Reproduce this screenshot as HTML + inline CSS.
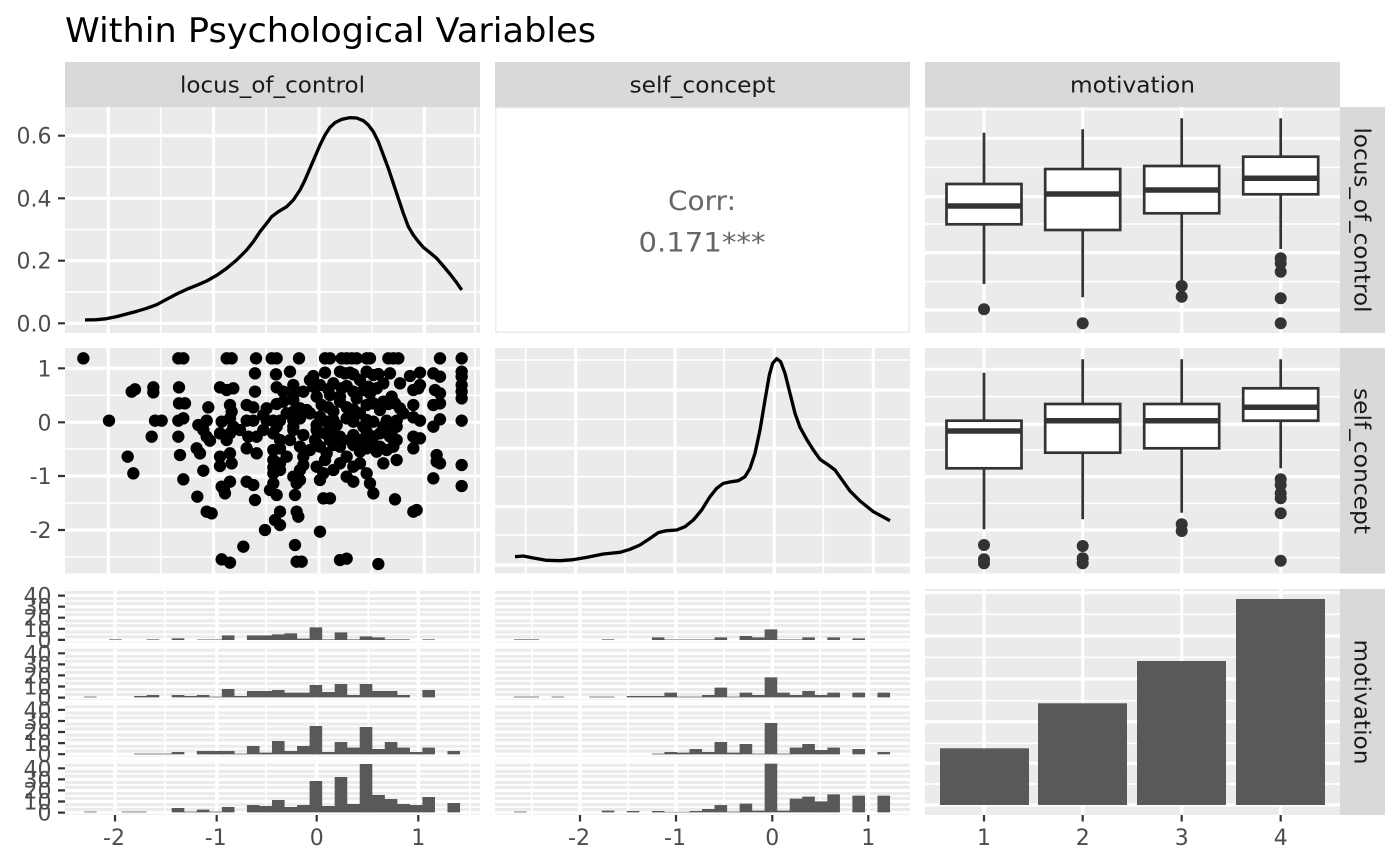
<!DOCTYPE html>
<html><head><meta charset="utf-8"><style>html,body{margin:0;padding:0;background:#fff}svg{display:block}</style></head>
<body>
<svg width="1400" height="865" viewBox="0 0 1400 865" xmlns="http://www.w3.org/2000/svg" font-family="'DejaVu Sans','Liberation Sans',sans-serif">
<defs>
<g id="hs"><rect width="415" height="53.3" fill="#EBEBEB"/><path d="M0 45.36H415M0 34.28H415M0 23.2H415M0 12.12H415M0 1.04H415" stroke="#fff" stroke-width="1.7"/><path d="M0 50.9H415M0 39.82H415M0 28.74H415M0 17.66H415M0 6.58H415" stroke="#fff" stroke-width="3.2"/></g>
</defs>
<rect width="1400" height="865" fill="#fff"/>
<text x="65" y="42" font-size="34" fill="#000" textLength="531" lengthAdjust="spacingAndGlyphs">Within Psychological Variables</text>

<rect x="65" y="62" width="415" height="45" fill="#D9D9D9"/>
<rect x="495" y="62" width="415" height="45" fill="#D9D9D9"/>
<rect x="925" y="62" width="415" height="45" fill="#D9D9D9"/>
<g font-size="22" fill="#1A1A1A" text-anchor="middle">
<text x="272.5" y="92.5" textLength="185" lengthAdjust="spacingAndGlyphs">locus_of_control</text>
<text x="702.5" y="92.5" textLength="146" lengthAdjust="spacingAndGlyphs">self_concept</text>
<text x="1132.5" y="92.5" textLength="125" lengthAdjust="spacingAndGlyphs">motivation</text>
</g>
<rect x="1340" y="107" width="45" height="226" fill="#D9D9D9"/>
<rect x="1340" y="348" width="45" height="225.5" fill="#D9D9D9"/>
<rect x="1340" y="589" width="45" height="226" fill="#D9D9D9"/>
<g font-size="22" fill="#1A1A1A" text-anchor="middle">
<text transform="translate(1354.5,220) rotate(90)" textLength="185" lengthAdjust="spacingAndGlyphs">locus_of_control</text>
<text transform="translate(1354.5,461) rotate(90)" textLength="146" lengthAdjust="spacingAndGlyphs">self_concept</text>
<text transform="translate(1354.5,702) rotate(90)" textLength="125" lengthAdjust="spacingAndGlyphs">motivation</text>
</g>

<rect x="65" y="107" width="415" height="226" fill="#EBEBEB"/>
<path d="M65 167H480M65 229.5H480M65 292H480M160.7 107V333M266 107V333M371.7 107V333M475 107V333" stroke="#fff" stroke-width="1.7"/>
<path d="M65 135.7H480M65 198.3H480M65 260.7H480M65 323.3H480M108.3 107V333M213.5 107V333M319 107V333M424.3 107V333" stroke="#fff" stroke-width="3.2"/>
<g transform="translate(0,50) scale(0.33333)">
<polyline fill="none" stroke="#000" stroke-width="10" stroke-linejoin="round" points="255,810 290,809 320,806 350,800 380,792 410,784 440,775 470,764 500,748 530,732 560,718 590,706 620,693 650,676 680,655 710,630 740,600 760,575 780,545 800,520 815,500 835,485 860,470 880,450 900,420 915,390 930,355 945,320 960,285 975,255 990,232 1005,218 1025,208 1050,203 1070,204 1090,212 1105,225 1120,245 1135,275 1150,315 1165,355 1180,400 1195,445 1210,490 1225,530 1240,555 1255,575 1270,592 1290,608 1310,625 1330,648 1350,672 1370,698 1385,720"/>
</g>

<rect x="495.75" y="107.75" width="413.5" height="224.5" fill="#fff" stroke="#EBEBEB" stroke-width="1.5"/>
<text x="702" y="210" font-size="27" fill="#666" text-anchor="middle" textLength="68" lengthAdjust="spacingAndGlyphs">Corr:</text>
<text x="702" y="251.5" font-size="27" fill="#666" text-anchor="middle" textLength="127" lengthAdjust="spacingAndGlyphs">0.171***</text>

<rect x="925" y="107" width="415" height="226" fill="#EBEBEB"/>
<path d="M925 109.5H1340M925 167.3H1340M925 224H1340M925 281.7H1340" stroke="#fff" stroke-width="1.7"/>
<path d="M925 138.3H1340M925 196.7H1340M925 252.7H1340M925 310H1340M984 107V333M1082.7 107V333M1181.7 107V333M1280.7 107V333" stroke="#fff" stroke-width="3.2"/>
<g stroke="#333" fill="#fff" stroke-width="2.7">
<path d="M984 132.7V184M984 224.3V284M1082.7 129.3V169M1082.7 230V297.3M1181.7 118.3V166M1181.7 213.3V280.7M1280.7 118.3V156.7M1280.7 194.3V249" fill="none"/>
<rect x="946.5" y="184" width="75" height="40.3"/>
<rect x="1045.2" y="169" width="75" height="61"/>
<rect x="1144.2" y="166" width="75" height="47.3"/>
<rect x="1243.2" y="156.7" width="75" height="37.6"/>
<path d="M946.5 206H1021.5M1045.2 194H1120.2M1144.2 190H1219.2M1243.2 178.3H1318.2" stroke-width="5.5" fill="none"/>
</g>
<g fill="#333">
<circle cx="984" cy="309.3" r="6"/>
<circle cx="1082.7" cy="323.3" r="6"/>
<circle cx="1181.7" cy="286" r="6"/><circle cx="1181.7" cy="296.7" r="6"/>
<circle cx="1280.7" cy="258.3" r="6"/><circle cx="1280.7" cy="263.3" r="6"/><circle cx="1280.7" cy="271.7" r="6"/><circle cx="1280.7" cy="298.3" r="6"/><circle cx="1280.7" cy="323.3" r="6"/>
</g>

<rect x="65" y="348" width="415" height="225.5" fill="#EBEBEB"/>
<path d="M65 395.3H480M65 449H480M65 503H480M65 557H480M160.7 348V573.5M266 348V573.5M371.7 348V573.5M475 348V573.5" stroke="#fff" stroke-width="1.7"/>
<path d="M65 368.3H480M65 422.3H480M65 476H480M65 530H480M108.3 348V573.5M213.5 348V573.5M319 348V573.5M424.3 348V573.5" stroke="#fff" stroke-width="3.2"/>
<g transform="translate(0,330) scale(0.33333)">
<path fill="none" stroke="#000" stroke-width="37" stroke-linecap="round" d="M250 85h0M535 85h0M550 85h0M680 85h0M695 85h0M768 85h0M815 85h0M830 85h0M897 85h0M975 85h0M990 85h0M1025 85h0M1040 85h0M1055 85h0M1070 85h0M1100 85h0M1110 85h0M1165 85h0M1180 85h0M1195 85h0M1320 85h0M1385 85h0
M765 130h0M828 133h0M870 125h0M940 138h0M975 128h0M1020 125h0M1035 130h0M1050 128h0M1060 133h0M1100 125h0M1120 135h0M1135 132h0M1170 130h0M1230 138h0M1260 128h0M1300 130h0M1320 140h0M1385 125h0M1385 140h0
M395 185h0M405 178h0M460 172h0M460 187h0M537 172h0M660 172h0M680 180h0M700 175h0M765 185h0M830 172h0M850 185h0M880 165h0M910 185h0M940 170h0M960 165h0M985 178h0M1000 160h0M1025 175h0M1040 168h0M1060 185h0M1090 180h0M1105 170h0M1110 190h0M1130 175h0M1240 180h0M1255 175h0M1260 165h0M1305 180h0M1320 190h0M1385 165h0M1385 185h0M1385 205h0M950 200h0M1020 200h0M1070 205h0M1175 200h0
M537 220h0M555 220h0M625 232h0M690 225h0M740 225h0M760 232h0M800 235h0M830 222h0M850 215h0M880 210h0M900 235h0M920 240h0M965 225h0M985 232h0M1000 245h0M1040 232h0M1060 238h0M1100 225h0M1120 220h0M1165 222h0M1185 220h0M1240 225h0M1300 225h0M1320 220h0M695 245h0M880 245h0M1140 240h0M1200 235h0M1020 215h0
M327 272h0M465 272h0M485 272h0M535 272h0M550 265h0M595 285h0M620 272h0M665 275h0M690 265h0M740 272h0M760 272h0M800 272h0M820 272h0M840 272h0M880 272h0M900 265h0M960 260h0M980 275h0M1000 270h0M1040 265h0M1060 275h0M1100 270h0M1120 275h0M1160 272h0M1190 272h0M1240 262h0M1260 272h0M1300 290h0M1320 268h0M1385 272h0M950 285h0M1010 285h0M1090 290h0M1150 290h0M700 290h0M830 290h0M880 290h0M1190 290h0
M455 320h0M535 320h0M610 300h0M620 320h0M630 332h0M660 310h0M690 310h0M680 330h0M745 320h0M770 320h0M820 310h0M840 330h0M880 300h0M910 315h0M950 300h0M975 310h0M1000 300h0M1020 320h0M1060 315h0M1100 305h0M1120 320h0M1140 310h0M1170 320h0M1190 330h0M1240 320h0M1260 325h0M945 330h0M990 330h0M1050 330h0M1110 335h0M1175 305h0M720 300h0M790 300h0
M383 380h0M540 375h0M590 355h0M600 370h0M660 380h0M690 370h0M695 400h0M740 355h0M770 370h0M820 360h0M840 355h0M820 390h0M900 350h0M910 380h0M960 350h0M980 370h0M1020 350h0M1040 380h0M1020 400h0M1100 355h0M1130 365h0M1160 360h0M1190 390h0M1240 355h0M1310 375h0M1320 400h0M1385 405h0M1060 410h0M840 400h0M910 405h0M1000 345h0M1060 345h0M1120 345h0M975 390h0M1140 350h0M1180 350h0M950 340h0M1310 395h0
M400 430h0M550 448h0M610 422h0M660 408h0M665 470h0M690 455h0M740 455h0M760 465h0M820 430h0M840 420h0M880 440h0M900 420h0M950 410h0M970 430h0M960 450h0M1040 440h0M1060 455h0M1100 430h0M1110 460h0M1300 445h0M1385 468h0M890 460h0M820 460h0M820 412h0M900 450h0
M592 500h0M620 545h0M635 550h0M672 480h0M675 490h0M765 510h0M810 480h0M830 495h0M885 495h0M890 545h0M895 560h0M970 505h0M990 505h0M1120 490h0M1185 508h0M1240 545h0M1250 540h0M840 545h0M825 570h0M840 585h0
M730 650h0M795 600h0M885 645h0M960 605h0M665 688h0M690 698h0M890 695h0M905 695h0M1020 690h0M1040 686h0M1135 702h0
M930 150h0M1080 150h0M1150 160h0M1200 160h0M860 250h0M930 250h0M1080 250h0M1210 250h0M790 255h0M870 330h0M1080 330h0M930 360h0M1080 365h0M860 380h0M1000 420h0M1080 400h0M1150 400h0M880 195h0M1150 215h0M990 195h0"/>
</g>

<rect x="495" y="348" width="415" height="225.5" fill="#EBEBEB"/>
<path d="M495 360H910M495 419.3H910M495 476.7H910M495 535H910M525.7 348V573.5M625 348V573.5M724 348V573.5M823.3 348V573.5" stroke="#fff" stroke-width="1.7"/>
<path d="M495 390H910M495 448.3H910M495 506.7H910M495 565H910M575.7 348V573.5M675 348V573.5M774.3 348V573.5M873.3 348V573.5" stroke="#fff" stroke-width="3.2"/>
<g transform="translate(480,330) scale(0.33333)">
<polyline fill="none" stroke="#000" stroke-width="10" stroke-linejoin="round" points="105,680 130,678 160,684 200,691 240,692 280,689 320,682 370,672 420,667 450,658 480,645 510,625 535,608 560,602 590,600 615,590 640,570 665,540 690,500 710,475 730,460 755,455 775,452 795,440 810,415 825,370 840,300 855,210 868,135 878,100 890,86 902,95 915,130 930,190 945,250 960,292 980,328 1000,360 1020,388 1045,405 1065,420 1085,448 1110,483 1140,513 1180,545 1230,572"/>
</g>

<rect x="925" y="348" width="415" height="225.5" fill="#EBEBEB"/>
<path d="M925 396.7H1340M925 450H1340M925 503.3H1340M925 557.7H1340" stroke="#fff" stroke-width="1.7"/>
<path d="M925 369.3H1340M925 424.3H1340M925 476.7H1340M925 530H1340M984 348V573.5M1082.7 348V573.5M1181.7 348V573.5M1280.7 348V573.5" stroke="#fff" stroke-width="3.2"/>
<g stroke="#333" fill="#fff" stroke-width="2.7">
<path d="M984 372.7V420.7M984 468.3V529.3M1082.7 359.3V404M1082.7 452.7V519.3M1181.7 359.3V404M1181.7 448.3V512.7M1280.7 359.3V388.3M1280.7 420.7V468.3" fill="none"/>
<rect x="946.5" y="420.7" width="75" height="47.6"/>
<rect x="1045.2" y="404" width="75" height="48.7"/>
<rect x="1144.2" y="404" width="75" height="44.3"/>
<rect x="1243.2" y="388.3" width="75" height="32.4"/>
<path d="M946.5 431H1021.5M1045.2 420.7H1120.2M1144.2 420.7H1219.2M1243.2 407.3H1318.2" stroke-width="5.5" fill="none"/>
</g>
<g fill="#333">
<circle cx="984" cy="545" r="6"/><circle cx="984" cy="559.3" r="6"/><circle cx="984" cy="563.3" r="6"/>
<circle cx="1082.7" cy="546" r="6"/><circle cx="1082.7" cy="558.3" r="6"/><circle cx="1082.7" cy="563.3" r="6"/>
<circle cx="1181.7" cy="524.3" r="6"/><circle cx="1181.7" cy="531" r="6"/>
<circle cx="1280.7" cy="479.3" r="6"/><circle cx="1280.7" cy="485" r="6"/><circle cx="1280.7" cy="493.3" r="6"/><circle cx="1280.7" cy="498.3" r="6"/><circle cx="1280.7" cy="513.3" r="6"/><circle cx="1280.7" cy="560.7" r="6"/>
</g>

<use href="#hs" x="65" y="589"/>
<use href="#hs" x="65" y="646.7"/>
<use href="#hs" x="65" y="703.3"/>
<use href="#hs" x="65" y="761.7"/>
<path d="M165 589V815M266 589V815M368.3 589V815M470 589V815" stroke="#fff" stroke-width="1.7"/>
<path d="M115 589V815M216.7 589V815M316.7 589V815M418.3 589V815" stroke="#fff" stroke-width="3.2"/>
<use href="#hs" x="495" y="589"/>
<use href="#hs" x="495" y="646.7"/>
<use href="#hs" x="495" y="703.3"/>
<use href="#hs" x="495" y="761.7"/>
<path d="M531.7 589V815M628.3 589V815M724 589V815M820 589V815" stroke="#fff" stroke-width="1.7"/>
<path d="M580 589V815M676 589V815M772.3 589V815M868.3 589V815" stroke="#fff" stroke-width="3.2"/>

<g transform="translate(0,580) scale(0.33333)" fill="#595959">
<path d="M327.2 180v-2h37.8v2zM440 180v-2h37.8v2zM515.2 180v-5h37.8v5zM590.4 180v-1.5h75.4v1.5zM665.6 180v-14h37.8v14zM740.8 180v-14h75.4v14zM816 180v-17h37.8v17zM853.6 180v-20h37.8v20zM891.2 180v-4h37.8v4zM928.8 180v-38h37.8v38zM966.4 180v-2h37.8v2zM1004 180v-23h37.8v23zM1041.6 180v-2h37.8v2zM1079.2 180v-11h37.8v11zM1116.8 180v-8h37.8v8zM1154.4 180v-2h75.4v2zM1267.2 180v-2h37.8v2z"/>
<path d="M252 352v-2h37.8v2zM402.4 352v-4h37.8v4zM440 352v-7h37.8v7zM515.2 352v-7h37.8v7zM552.8 352v-4h37.8v4zM590.4 352v-7h37.8v7zM628 352v-2h37.8v2zM665.6 352v-25h37.8v25zM703.2 352v-4h37.8v4zM740.8 352v-19h75.4v19zM816 352v-22h37.8v22zM853.6 352v-14h75.4v14zM928.8 352v-37h37.8v37zM966.4 352v-16h37.8v16zM1004 352v-40h37.8v40zM1041.6 352v-7h37.8v7zM1079.2 352v-40h37.8v40zM1116.8 352v-19h75.4v19zM1192 352v-7h37.8v7zM1267.2 352v-22h37.8v22z"/>
<path d="M402.4 523v-2h113.2v2zM515.2 523v-7h37.8v7zM590.4 523v-10h113.2v10zM703.2 523v-2h37.8v2zM740.8 523v-25h37.8v25zM778.4 523v-5h37.8v5zM816 523v-40h37.8v40zM853.6 523v-10h37.8v10zM891.2 523v-25h37.8v25zM928.8 523v-85h37.8v85zM966.4 523v-7h37.8v7zM1004 523v-37h37.8v37zM1041.6 523v-20h37.8v20zM1079.2 523v-82h37.8v82zM1116.8 523v-16h37.8v16zM1154.4 523v-37h37.8v37zM1192 523v-20h37.8v20zM1229.6 523v-7h37.8v7zM1267.2 523v-20h37.8v20zM1342.4 523v-10h37.8v10z"/>
<path d="M252 697v-2h37.8v2zM364.8 697v-2h75.4v2zM515.2 697v-13h37.8v13zM552.8 697v-2h37.8v2zM590.4 697v-8h37.8v8zM628 697v-2h37.8v2zM665.6 697v-16h37.8v16zM740.8 697v-22h37.8v22zM778.4 697v-19h37.8v19zM816 697v-37h37.8v37zM853.6 697v-16h37.8v16zM891.2 697v-22h37.8v22zM928.8 697v-94h37.8v94zM966.4 697v-19h37.8v19zM1004 697v-106h37.8v106zM1041.6 697v-25h37.8v25zM1079.2 697v-145h37.8v145zM1116.8 697v-52h37.8v52zM1154.4 697v-40h37.8v40zM1192 697v-25h37.8v25zM1229.6 697v-22h37.8v22zM1267.2 697v-46h37.8v46zM1342.4 697v-28h37.8v28z"/>
</g>
<g transform="translate(480,580) scale(0.33333)" fill="#595959">
<path d="M102 180v-2h75.4v2zM365.2 180v-2h37.8v2zM515.6 180v-8h37.8v8zM553.2 180v-1.5h150.6v1.5zM703.6 180v-8h37.8v8zM778.8 180v-12h37.8v12zM816.4 180v-8h37.8v8zM854 180v-32h37.8v32zM891.6 180v-1.5h75.4v1.5zM966.8 180v-8h37.8v8zM1042 180v-8h37.8v8zM1117.2 180v-5h37.8v5z"/>
<path d="M102 352v-2h75.4v2zM214.8 352v-2h37.8v2zM327.6 352v-2h75.4v2zM440.4 352v-4h113v4zM553.2 352v-14h37.8v14zM590.8 352v-2h75.4v2zM666 352v-7h37.8v7zM703.6 352v-29h37.8v29zM741.2 352v-2h37.8v2zM778.8 352v-14h37.8v14zM816.4 352v-7h37.8v7zM854 352v-60h37.8v60zM891.6 352v-14h37.8v14zM929.2 352v-7h37.8v7zM966.8 352v-19h37.8v19zM1004.4 352v-7h37.8v7zM1042 352v-14h37.8v14zM1117.2 352v-14h37.8v14zM1192.4 352v-14h37.8v14z"/>
<path d="M515.6 523v-2h37.8v2zM553.2 523v-7h37.8v7zM590.8 523v-5h37.8v5zM628.4 523v-16h37.8v16zM666 523v-7h37.8v7zM703.6 523v-37h37.8v37zM741.2 523v-5h37.8v5zM778.8 523v-31h37.8v31zM816.4 523v-2h37.8v2zM854 523v-94h37.8v94zM891.6 523v-2h37.8v2zM929.2 523v-20h37.8v20zM966.8 523v-31h37.8v31zM1004.4 523v-13h37.8v13zM1042 523v-20h37.8v20zM1117.2 523v-16h37.8v16zM1192.4 523v-7h37.8v7z"/>
<path d="M102 697v-2h37.8v2zM365.2 697v-5h37.8v5zM440.4 697v-4h37.8v4zM515.6 697v-4h37.8v4zM553.2 697v-1.5h75.4v1.5zM628.4 697v-4h37.8v4zM666 697v-10h37.8v10zM703.6 697v-22h37.8v22zM741.2 697v-2h37.8v2zM778.8 697v-26h37.8v26zM816.4 697v-5h37.8v5zM854 697v-146h37.8v146zM891.6 697v-5h37.8v5zM929.2 697v-41h37.8v41zM966.8 697v-47h37.8v47zM1004.4 697v-33h37.8v33zM1042 697v-54h37.8v54zM1117.2 697v-50h37.8v50zM1192.4 697v-50h37.8v50z"/>
</g>

<rect x="925" y="589" width="415" height="226" fill="#EBEBEB"/>
<path d="M925 614.3H1340M925 657.3H1340M925 700.7H1340M925 743.3H1340M925 784H1340" stroke="#fff" stroke-width="1.7"/>
<path d="M925 592.7H1340M925 636H1340M925 679H1340M925 721.7H1340M925 763.3H1340M925 805H1340M984 589V815M1082.7 589V815M1181.7 589V815M1280.7 589V815" stroke="#fff" stroke-width="3.2"/>
<g fill="#595959">
<rect x="940" y="748.3" width="89" height="56.7"/>
<rect x="1038" y="703.3" width="89" height="101.7"/>
<rect x="1137" y="661" width="89" height="144"/>
<rect x="1236" y="599" width="89" height="206"/>
</g>

<path stroke="#333" stroke-width="2.2" fill="none" d="M58 135.7H65M58 198.3H65M58 260.7H65M58 323.3H65
M58 368.3H65M58 422.3H65M58 476H65M58 530H65
M58 639.9H65M58 628.8H65M58 617.7H65M58 606.7H65M58 595.6H65
M58 697.6H65M58 686.5H65M58 675.4H65M58 664.4H65M58 653.3H65
M58 754.2H65M58 743.1H65M58 732H65M58 721H65M58 709.9H65
M58 812.6H65M58 801.5H65M58 790.4H65M58 779.4H65M58 768.3H65
M115 815V821.5M216.7 815V821.5M316.7 815V821.5M418.3 815V821.5
M580 815V821.5M676 815V821.5M772.3 815V821.5M868.3 815V821.5
M984 815V821.5M1082.7 815V821.5M1181.7 815V821.5M1280.7 815V821.5"/>

<g font-size="22" fill="#4D4D4D" text-anchor="end">
<text x="51.5" y="143.7">0.6</text>
<text x="51.5" y="206.3">0.4</text>
<text x="51.5" y="268.7">0.2</text>
<text x="51.5" y="331.3">0.0</text>
<text x="51.5" y="376.3">1</text>
<text x="51.5" y="430.3">0</text>
<text x="51.5" y="484">-1</text>
<text x="51.5" y="538">-2</text>
<text x="51.5" y="647.9">0</text><text x="51.5" y="636.8">10</text><text x="51.5" y="625.7">20</text><text x="51.5" y="614.7">30</text><text x="51.5" y="603.6">40</text>
<text x="51.5" y="705.6">0</text><text x="51.5" y="694.5">10</text><text x="51.5" y="683.4">20</text><text x="51.5" y="672.4">30</text><text x="51.5" y="661.3">40</text>
<text x="51.5" y="762.2">0</text><text x="51.5" y="751.1">10</text><text x="51.5" y="740">20</text><text x="51.5" y="729">30</text><text x="51.5" y="717.9">40</text>
<text x="51.5" y="820.6">0</text><text x="51.5" y="809.5">10</text><text x="51.5" y="798.4">20</text><text x="51.5" y="787.4">30</text><text x="51.5" y="776.3">40</text>
</g>

<g font-size="22" fill="#4D4D4D" text-anchor="middle">
<text x="114" y="845">-2</text>
<text x="215.7" y="845">-1</text>
<text x="316.7" y="845">0</text>
<text x="418.3" y="845">1</text>
<text x="579" y="845">-2</text>
<text x="675" y="845">-1</text>
<text x="772.3" y="845">0</text>
<text x="868.3" y="845">1</text>
<text x="984" y="845">1</text>
<text x="1082.7" y="845">2</text>
<text x="1181.7" y="845">3</text>
<text x="1280.7" y="845">4</text>
</g>
</svg>
</body></html>
